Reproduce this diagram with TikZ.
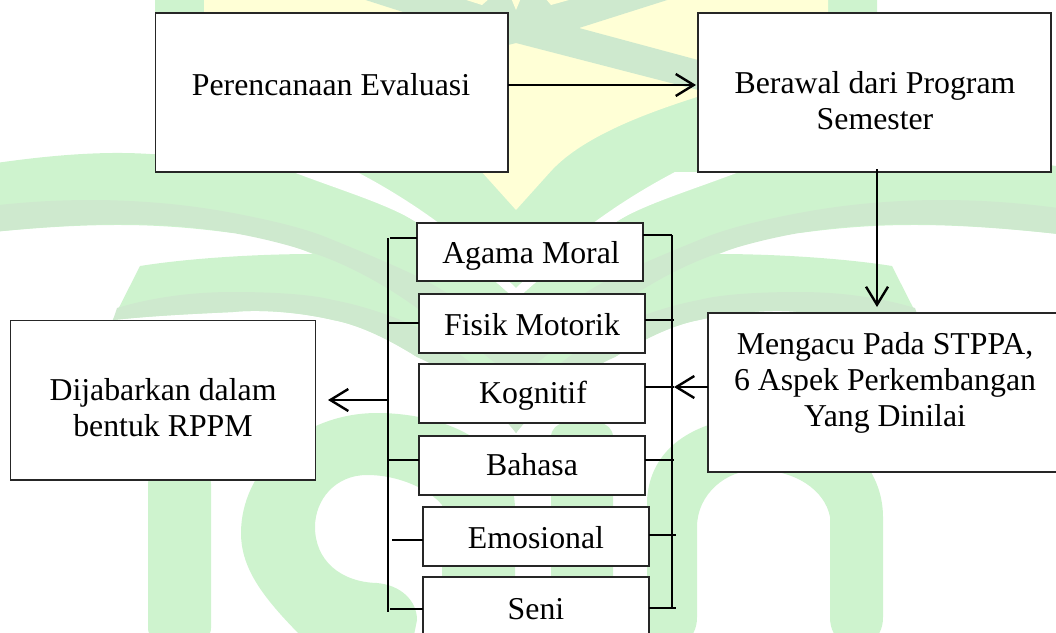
\documentclass[tikz,border=0pt]{standalone}
\usepackage{fontspec}
\setmainfont{Liberation Serif}
\usetikzlibrary{arrows.meta}
\definecolor{wmG}{HTML}{CEF3CE}
\definecolor{wmD}{HTML}{CEE9CE}
\definecolor{wmY}{HTML}{FFFFD6}
\tikzset{
  box/.style={draw=black!85,line width=1.6pt,fill=white,inner sep=0pt,outer sep=0pt,anchor=north west},
  lbl/.style={align=center,inner sep=0pt,font=\fontsize{31.8}{36}\selectfont,text=black},
  tie/.style={draw=black,line width=1.9pt},
  bar/.style={draw=black,line width=2pt},
  flow/.style={draw=black,line width=2.7pt,-{Straight Barb[length=18pt,width=22pt,line width=2.4pt]}},
}
\newcommand{\wmhalf}{%
  % upper arch
  \fill[wmG] (-60,172) .. controls (20,158) and (90,150) .. (150,154)
     .. controls (210,156) and (260,162) .. (293,172)
     .. controls (350,190) and (390,205) .. (416,222)
     .. controls (450,245) and (490,275) .. (516,300)
     -- (516,433) .. controls (490,395) and (450,365) .. (417,357)
     .. controls (390,340) and (360,325) .. (333,320)
     .. controls (290,310) and (250,310) .. (233,312)
     .. controls (190,314) and (150,316) .. (113,320)
     -- (100,345) -- (140,266)
     .. controls (190,258) and (260,254) .. (313,254)
     .. controls (280,240) and (240,232) .. (233,233)
     .. controls (170,225) and (100,218) .. (-60,238) -- cycle;
  % dark stripe 1
  \fill[wmD] (-60,213) .. controls (20,200) and (70,200) .. (100,200)
     .. controls (150,201) and (190,205) .. (233,213)
     .. controls (280,222) and (310,230) .. (333,240)
     .. controls (370,255) and (410,272) .. (430,283)
     .. controls (460,300) and (490,320) .. (516,345)
     -- (516,380) .. controls (480,350) and (440,320) .. (430,318)
     .. controls (395,290) and (350,265) .. (313,253)
     .. controls (280,242) and (250,236) .. (233,233)
     .. controls (170,223) and (100,218) .. (-60,238) -- cycle;
  % dark stripe 2
  \fill[wmD] (117,308) .. controls (150,298) and (190,292) .. (233,292)
     .. controls (270,292) and (310,294) .. (333,300)
     .. controls (365,306) and (395,317) .. (417,327)
     .. controls (450,345) and (490,375) .. (516,405)
     -- (516,433) .. controls (490,400) and (450,372) .. (417,357)
     .. controls (390,340) and (360,325) .. (333,320)
     .. controls (290,310) and (250,310) .. (233,312)
     .. controls (190,314) and (150,316) .. (113,320) -- cycle;
}
\begin{document}
\begin{tikzpicture}[x=1pt,y=-1pt]
\useasboundingbox (0,0) rectangle (1056,632);
\clip (0,0) rectangle (1056,632);
% watermark: shield
\fill[wmG] (155,-5) -- (877,-5) -- (877,172) -- (675,172) -- (516,290) -- (357,172) -- (155,172) -- cycle;
\fill[wmY] (204,-5) -- (828,-5) -- (828,60) -- (740,85) -- (697,97)
   .. controls (650,112) and (585,135) .. (552,170) -- (516,210) -- (480,170)
   .. controls (447,135) and (382,112) .. (335,97) -- (292,85) -- (204,60) -- cycle;
% central dark chevrons
\fill[wmD] (350,-5) -- (683,-5) -- (579,28) -- (698,60) -- (698,90) -- (516,43)
   -- (334,90) -- (334,60) -- (453,28) -- cycle;
\fill[wmY] (460,-2) -- (490,-2) -- (482,5) -- cycle;
\fill[wmY] (545,-2) -- (576,-2) -- (551,5) -- cycle;
\fill[wmY] (511,-2) -- (521,-2) -- (516,10) -- cycle;
% leaves
\wmhalf
\begin{scope}[xshift=1032pt,xscale=-1]\wmhalf\end{scope}
% white strips between shield and leaves
\fill[white] (293,172) -- (357,172) .. controls (395,192) and (450,225) .. (516,288)
  .. controls (520,290) and (512,290) .. (516,300)
  .. controls (490,275) and (450,245) .. (416,222)
  .. controls (390,205) and (340,190) .. (293,172) -- cycle;
\fill[white] (739,172) -- (675,172) .. controls (637,192) and (582,225) .. (516,288)
  .. controls (512,290) and (520,290) .. (516,300)
  .. controls (542,275) and (582,245) .. (616,222)
  .. controls (642,205) and (692,190) .. (739,172) -- cycle;
% "i"
\fill[wmG,rounded corners=14pt] (148,470) rectangle (211,642);
% "s"
\fill[wmG] (241,533) .. controls (241,470) and (300,413) .. (377,413)
   .. controls (440,413) and (515,440) .. (515,510) -- (515,640) -- (442,640) -- (442,505)
   .. controls (430,490) and (400,475) .. (367,475)
   .. controls (335,475) and (315,500) .. (315,527)
   .. controls (315,560) and (340,582) .. (377,583)
   .. controls (400,585) and (417,600) .. (417,620) -- (413,640) -- (305,640)
   .. controls (265,600) and (241,570) .. (241,533) -- cycle;
% "n" stem and arch
\fill[wmG,rounded corners=14pt] (551,423) rectangle (613,660);
\fill[wmG] (647,500) .. controls (650,450) and (690,420) .. (760,415)
   .. controls (830,415) and (883,460) .. (883,517) -- (883,617)
   .. controls (883,630) and (878,636) .. (872,642) -- (841,642)
   .. controls (835,636) and (830,630) .. (830,617) -- (830,517)
   .. controls (825,490) and (795,470) .. (757,470)
   .. controls (725,470) and (697,495) .. (697,527) -- (697,617)
   .. controls (697,630) and (692,636) .. (686,642) -- (647,642) -- cycle;
% boxes
\node[box,minimum width=352.5pt,minimum height=159pt] (pe) at (155.5,13) {};
\node[box,minimum width=353pt,minimum height=159pt] (be) at (698,13) {};
\node[box,minimum width=360pt,minimum height=159pt] (me) at (708,313) {};
\node[box,minimum width=305pt,minimum height=159.5pt] (di) at (10.5,320.5) {};
\node[box,minimum width=226pt,minimum height=58pt] (ag) at (417,223) {};
\node[box,minimum width=226pt,minimum height=59pt] (fi) at (419,294) {};
\node[box,minimum width=226pt,minimum height=59pt] (ko) at (419,364) {};
\node[box,minimum width=226pt,minimum height=59pt] (ba) at (419,436) {};
\node[box,minimum width=226pt,minimum height=59pt] (em) at (423,507) {};
\node[box,minimum width=226pt,minimum height=70pt] (se) at (423,577) {};
% labels
\node[lbl] (tpe) at (331,85) {Perencanaan Evaluasi};
\node[lbl] (tbe) at (875,101) {Berawal dari Program\\Semester};
\node[lbl] (tme) at (885,383) {Mengacu Pada STPPA,\\6 Aspek Perkembangan\\Yang Dinilai};
\node[lbl] (tdi) at (163,408) {Dijabarkan dalam\\bentuk RPPM};
\node[lbl] (tag) at (531,256) {Agama Moral};
\node[lbl] (tfi) at (532,325) {Fisik Motorik};
\node[lbl] (tko) at (533,396) {Kognitif};
\node[lbl] (tba) at (532,465) {Bahasa};
\node[lbl] (tem) at (536,538) {Emosional};
\node[lbl] (tse) at (536,609) {Seni};
% bars
\coordinate (lt) at (388,238);
\coordinate (lb) at (388,612);
\coordinate (rt) at (672,235);
\coordinate (rb) at (672,608);
\draw[bar] (lt) -- (lb);
\draw[bar] (rt) -- (rb);
% free ends of the ties
\coordinate (la) at (390,238);
\coordinate (lf) at (388,323);
\coordinate (lk) at (388,400);
\coordinate (lh) at (388,460);
\coordinate (le) at (392,540);
\coordinate (ls) at (390,609);
\coordinate (ra) at (672,235);
\coordinate (rf) at (674,320);
\coordinate (rk) at (674,387);
\coordinate (rh) at (674,460);
\coordinate (re) at (676,535);
\coordinate (rs) at (676,608);
\draw[tie] (la) -- (ag.west |- la);
\draw[tie] (lf) -- (fi.west |- lf);
\draw[tie] (lh) -- (ba.west |- lh);
\draw[tie] (le) -- (em.west |- le);
\draw[tie] (ls) -- (se.west |- ls);
\draw[tie] (ag.east |- ra) -- (ra);
\draw[tie] (fi.east |- rf) -- (rf);
\draw[tie] (ko.east |- rk) -- (rk);
\draw[tie] (ba.east |- rh) -- (rh);
\draw[tie] (em.east |- re) -- (re);
\draw[tie] (se.east |- rs) -- (rs);
% arrows
\coordinate (ape) at (508,85);
\coordinate (abe) at (696,85);
\coordinate (bs) at (877,169);
\coordinate (bm) at (877,307);
\coordinate (dt) at (328,400);
\draw[flow] (ape) -- (abe);
\draw[flow] (bs) -- (bm);
\draw[flow] (me.west |- rk) -- (rk);
\draw[flow] (lk) -- (dt);
\end{tikzpicture}
\end{document}
